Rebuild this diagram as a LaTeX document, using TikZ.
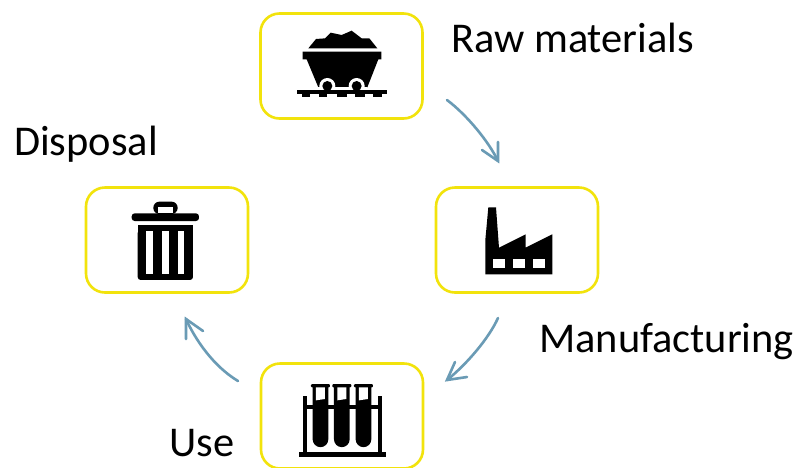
\documentclass[tikz,border=0pt]{standalone}
\usepackage{fontspec}
\setmainfont{Carlito}
\definecolor{boxyellow}{HTML}{F2E30C}
\definecolor{flowblue}{HTML}{6A9BB5}
\tikzset{
  stagebox/.style={draw=boxyellow,line width=2.6pt,rounded corners=19pt,fill=white,minimum width=162pt,minimum height=105pt,inner sep=0pt},
  caption/.style={anchor=base west,inner sep=0pt,font=\fontsize{42.4}{50}\selectfont,text=black},
  flow/.style={draw=flowblue,line width=2.6pt,line cap=round},
  flowhead/.style={draw=flowblue,line width=2.6pt,line cap=round,line join=miter},
  icon/.style={x=0.3333pt,y=-0.3333pt},
  ink/.style={fill=black,draw=none},
  gap/.style={fill=white,draw=none}
}
\begin{document}
\begin{tikzpicture}[x=1pt,y=-1pt]
\useasboundingbox (0,0) rectangle (800,467);
\clip (0,0) rectangle (800,467);
\fill[white] (0,0) rectangle (800,467);

\node[stagebox] (raw) at (341.5,66) {};
\node[stagebox] (mfg) at (517,240) {};
\node[stagebox] (dis) at (167,240) {};
\node[stagebox] (use) at (342,416) {};

\node[caption] (lraw) at (451,52) {Raw materials};
\node[caption] (ldis) at (14,155) {Disposal};
\node[caption] (lmfg) at (539,352) {Manufacturing};
\node[caption] (luse) at (169,456) {Use};

\coordinate (a1s) at (447,100);
\coordinate (a1t) at (498,161);
\coordinate (a2s) at (498,318);
\coordinate (a2t) at (447,380);
\coordinate (a3s) at (238,381);
\coordinate (a3t) at (186,319);

\draw[flow] (a1s) .. controls (467,115) and (489,142) .. (a1t);
\draw[flowhead] (498,142) -- (a1t) -- (482,150);
\draw[flow] (a2s) .. controls (489,338) and (467,364) .. (a2t);
\draw[flowhead] (455,362) -- (a2t) -- (467,377);
\draw[flow] (a3s) .. controls (213,366) and (195,339) .. (a3t);
\draw[flowhead] (186,339) -- (a3t) -- (203,331);

% mine cart
\begin{scope}[shift={(250,0)},icon]
  \fill[ink] (175,145) -- (198,117) -- (225,115) -- (242,98) -- (275,105) -- (305,92) -- (335,115) -- (358,115) -- (382,145) -- cycle;
  \fill[ink] (158,155) -- (394,155) -- (394,178) -- (385,178) -- (352,262) -- (205,262) -- (170,178) -- (158,178) -- cycle;
  \fill[gap] (232,258) circle[radius=24pt/3];
  \fill[gap] (320,258) circle[radius=24pt/3];
  \fill[gap] (205,262) rectangle (350,270);
  \fill[ink] (232,258) circle[radius=15pt/3];
  \fill[ink] (320,258) circle[radius=15pt/3];
  \fill[ink] (140,270) rectangle (412,283);
  \foreach \a/\b in {155/180,207/232,262/290,315/345,370/397}
    \fill[ink] (\a,283) rectangle (\b,292);
\end{scope}

% factory
\begin{scope}[shift={(425,180)},icon]
  \fill[ink] (181,283) -- (181,180) -- (190,82) -- (213,82) -- (222,203) -- (302,163) -- (302,203) -- (382,163) -- (382,283) -- cycle;
  \foreach \a in {205,264,323}
    \fill[gap] (\a,237) rectangle (\a+36,263);
\end{scope}

% bin
\begin{scope}[shift={(75,180)},icon]
  \fill[ink,rounded corners=3pt] (170,123) -- (170,100) -- (372,100) -- (372,123) -- cycle;
  \fill[ink,rounded corners=6pt] (235,102) -- (235,65) -- (308,65) -- (308,102) -- cycle;
  \fill[gap] (250,82) rectangle (293,99);
  \fill[ink,rounded corners=3pt] (188,150) -- (188,300) -- (354,300) -- (354,150) -- cycle;
  \fill[ink] (188,135) rectangle (354,160);
  \foreach \a in {214,262,309}
    \fill[gap] (\a,153) rectangle (\a+19,283);
\end{scope}

% test tubes
\begin{scope}[shift={(250,350)},icon]
  \fill[ink] (148,305) rectangle (408,322);
  \fill[ink] (160,138) rectangle (171,305);
  \fill[ink] (385,138) rectangle (396,305);
  \fill[ink] (171,165) rectangle (385,178);
  \foreach \a in {188,252,317} {
    \fill[ink,rounded corners=1pt] (\a-5,102) rectangle (\a+52,112);
    \fill[ink] (\a,110) -- (\a+47,110) -- (\a+47,268) arc[start angle=0,end angle=-180,radius=23.5pt/3] -- cycle;
    \fill[gap] (\a+10,112) -- (\a+37,112) -- (\a+37,147) -- (\a+10,151) -- cycle;
  }
\end{scope}
\end{tikzpicture}
\end{document}
